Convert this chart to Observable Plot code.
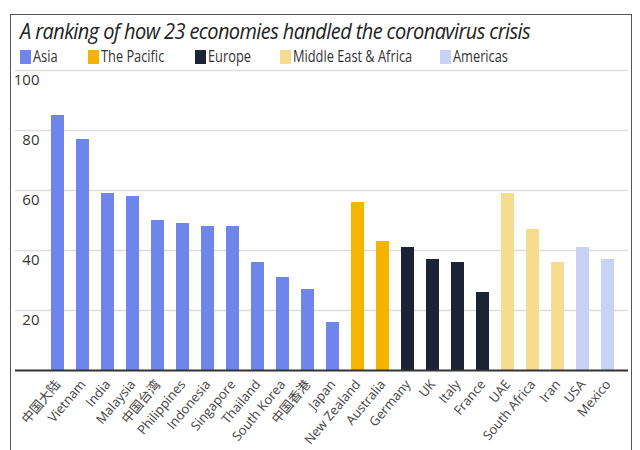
<!DOCTYPE html>
<html>
<head>
<meta charset="utf-8">
<script src="https://cdn.jsdelivr.net/npm/d3@7"></script>
<script src="https://cdn.jsdelivr.net/npm/@observablehq/plot@0.6"></script>
<style>
  html, body { margin: 0; padding: 0; background: #fff; width: 640px; height: 450px; overflow: hidden; }
  body { position: relative; font-family: "Open Sans", "Noto Sans", sans-serif; }
  #frame { position: absolute; left: 10px; top: 14px; width: 622px; height: 460px; border: 1.5px solid #555; box-sizing: border-box; }
  #title { position: absolute; left: 20px; top: 17px; font-size: 21px; font-style: italic; color: #222; white-space: nowrap; letter-spacing: -0.6px; transform: scaleX(0.95); transform-origin: left; }
  #legend { position: absolute; left: 20px; top: 45px; font-size: 16px; color: #333; }
  .item { position: absolute; white-space: nowrap; }
  .sw { display: inline-block; width: 11px; height: 14px; margin-right: 2px; vertical-align: -2px; }
  .lbl { display: inline-block; transform: scaleX(0.8); transform-origin: left; }
  #chart { position: absolute; left: 0; top: 60px; }
</style>
</head>
<body>
<div id="frame"></div>
<div id="title">A ranking of how 23 economies handled the coronavirus crisis</div>
<div id="legend"></div>
<div id="chart"></div>
<script>
const economies = ["中国大陆","Vietnam","India","Malaysia","中国台湾","Philippines","Indonesia","Singapore","Thailand","South Korea","中国香港","Japan","New Zealand","Australia","Germany","UK","Italy","France","UAE","South Africa","Iran","USA","Mexico"];
const scores = [85,77,59,58,50,49,48,48,36,31,27,16,56,43,41,37,36,26,59,47,36,41,37];
const regionOf = ["Asia","Asia","Asia","Asia","Asia","Asia","Asia","Asia","Asia","Asia","Asia","Asia","The Pacific","The Pacific","Europe","Europe","Europe","Europe","Middle East & Africa","Middle East & Africa","Middle East & Africa","Americas","Americas"];
const regions = ["Asia","The Pacific","Europe","Middle East & Africa","Americas"];
const regionColors = ["#6e86ec","#f5b400","#1b2336","#f5dc90","#c9d1f7"];
const legendX = [0, 68, 175, 260, 420];
const yTicks = [20,40,60,80,100];

const data = economies.map((e, i) => ({economy: e, score: scores[i], region: regionOf[i]}));

const legend = document.getElementById("legend");
regions.forEach((r, i) => {
  const d = document.createElement("div");
  d.className = "item";
  d.style.left = legendX[i] + "px";
  d.innerHTML = `<span class="sw" style="background:${regionColors[i]}"></span><span class="lbl">${r}</span>`;
  legend.appendChild(d);
});

const chart = Plot.plot({
  width: 640,
  height: 390,
  marginTop: 10,
  marginBottom: 80,
  marginLeft: 15,
  marginRight: 12,
  style: {fontFamily: "'Open Sans', 'Noto Sans', 'Noto Sans CJK SC', sans-serif", background: "transparent"},
  x: {domain: economies, range: [35, 630], padding: 0.5, label: null},
  y: {domain: [0, 100], label: null},
  color: {domain: regions, range: regionColors},
  marks: [
    Plot.ruleY(yTicks, {stroke: "#ddd", strokeWidth: 1.5}),
    Plot.barY(data, {x: "economy", y: "score", fill: "region"}),
    Plot.ruleY([0], {stroke: "#333", strokeWidth: 2}),
    Plot.axisY({ticks: yTicks, tickSize: 0, textAnchor: "end", dx: 33, dy: 10, fontSize: 15, fill: "#333", label: null}),
    Plot.axisX({tickSize: 0, tickRotate: -50, fontSize: 13, fill: "#444", dy: 0, label: null})
  ]
});
document.getElementById("chart").appendChild(chart);
</script>
</body>
</html>
